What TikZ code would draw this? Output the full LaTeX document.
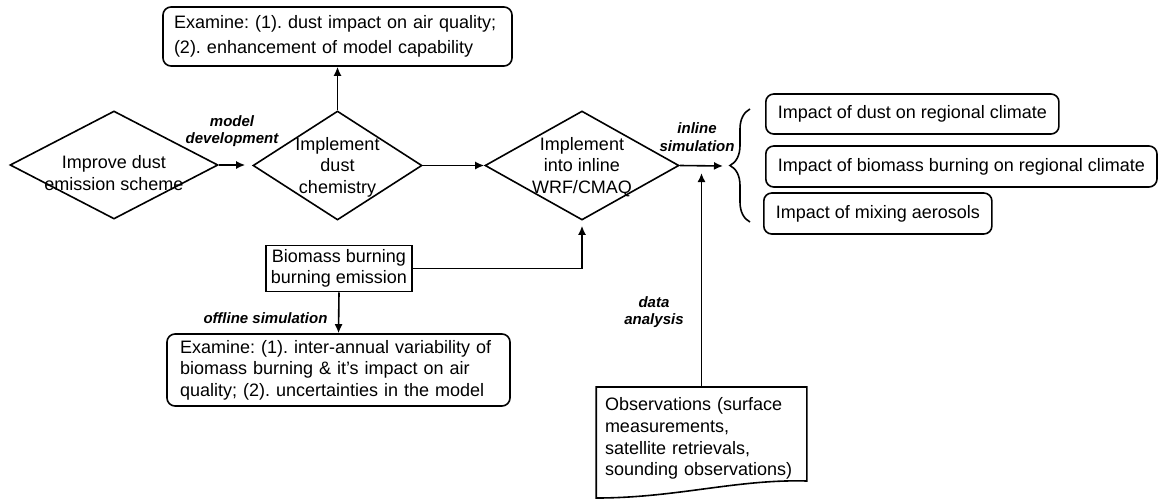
\documentclass[tikz,border=0pt]{standalone}
\usepackage{fontspec}
\setmainfont{Liberation Sans}
\usepackage{tikz}
\usetikzlibrary{calc,arrows.meta,shapes.geometric,decorations.pathreplacing}

\newcommand{\mainfs}{\fontsize{18}{21.6}\selectfont}
\newcommand{\tagfs}{\fontsize{15}{17.5}\selectfont\bfseries\itshape}
\frenchspacing
\hyphenpenalty=10000

\begin{document}
\begin{tikzpicture}[x=1pt,y=-1pt,line width=1.6pt,>={Latex[length=9pt,width=8pt]},
	every node/.style={font=\mainfs},
	decision/.style={diamond,draw,inner sep=0pt},
	outcome/.style={draw,rounded corners=8pt,align=left},
	tag/.style={font=\tagfs,align=center}]

% bounding box %{{{2

	\useasboundingbox (0,0) rectangle (1160,501);

% coordinates %{{{2

	\coordinate (simend) at (723,166);

% diamonds %{{{2

	\node[decision,minimum width=208,minimum height=108] (dust) at (114,165) {};
	\node[align=center] (dust-txt) at (114,173) {Improve dust\\emission scheme};

	\node[decision,minimum width=169,minimum height=109] (chem) at (337.5,165.5) {};
	\node[align=center] (chem-txt) at (337.5,167) {Implement\\dust\\chemistry};

	\node[decision,minimum width=194,minimum height=109] (wrf) at (582,165.5) {};
	\node[align=center] (wrf-txt) at (582,167) {Implement\\into inline\\WRF/CMAQ};

% boxes %{{{2

	\node[outcome,text width=327,inner xsep=11,minimum height=59] (dustexam) at (337.5,36.5)
	{Examine: (1). dust impact on air quality;\\[3pt] (2). enhancement of model capability};

	\node[draw,align=center,inner sep=4,minimum width=146,minimum height=45] (bio) at (339,268.5)
	{Biomass burning\\burning emission};

	\node[outcome,text width=317,inner xsep=13,minimum height=72] (bioexam) at (338.5,370)
	{Examine: (1). inter-annual variability of\\biomass burning \& it's impact on air\\quality; (2). uncertainties in the model};

	\node[outcome,anchor=west,inner xsep=12,minimum height=40] (climdust) at (765,114)
	{Impact of dust on regional climate};
	\node[outcome,anchor=west,inner xsep=12,minimum height=41] (climbio) at (765,166.5)
	{Impact of biomass burning on regional climate};
	\node[outcome,anchor=west,inner xsep=12,minimum height=41] (climmix) at (763,213.5)
	{Impact of mixing aerosols};

% observations %{{{2

	\node[align=left,text width=193,inner xsep=8,inner ysep=10,anchor=north] (obs) at (701.5,387)
	{Observations (surface\\measurements,\\satellite retrievals,\\sounding observations)};
	\draw (obs.north west) -- (obs.north east) -- ($(obs.north east)+(0,94)$)
		.. controls +(-70,-2) and +(80,0) .. ($(obs.north west)+(0,111)$) -- cycle;

% brace %{{{2

	\draw[decorate,decoration={brace,amplitude=20pt}] (750,222) -- (750,109);

% connectors %{{{2

	\draw[->,shorten >=7pt] (dust.east) -- (dust.east -| chem.west);
	\draw[->] (chem.north) -- (dustexam.south);
	\draw[->] (chem.east) -- (chem.east -| wrf.west);
	\draw[->,shorten >=5pt] (bio.east) -| (wrf.south);
	\draw[->] (bio.south) -- (bioexam.north);
	\draw[->] (wrf.east) -- (simend);
	\draw[->,shorten >=7pt] (obs.north) -- (obs.north |- simend);

% labels %{{{2

	\node[tag] (devlbl) at (232,131) {model\\development};
	\node[tag] (inlbl) at (697,137) {inline\\simulation};
	\node[tag] (datalbl) at (654,312) {data\\analysis};
	\node[tag] (offlbl) at (265.5,318) {offline simulation};

\end{tikzpicture}
\end{document}
